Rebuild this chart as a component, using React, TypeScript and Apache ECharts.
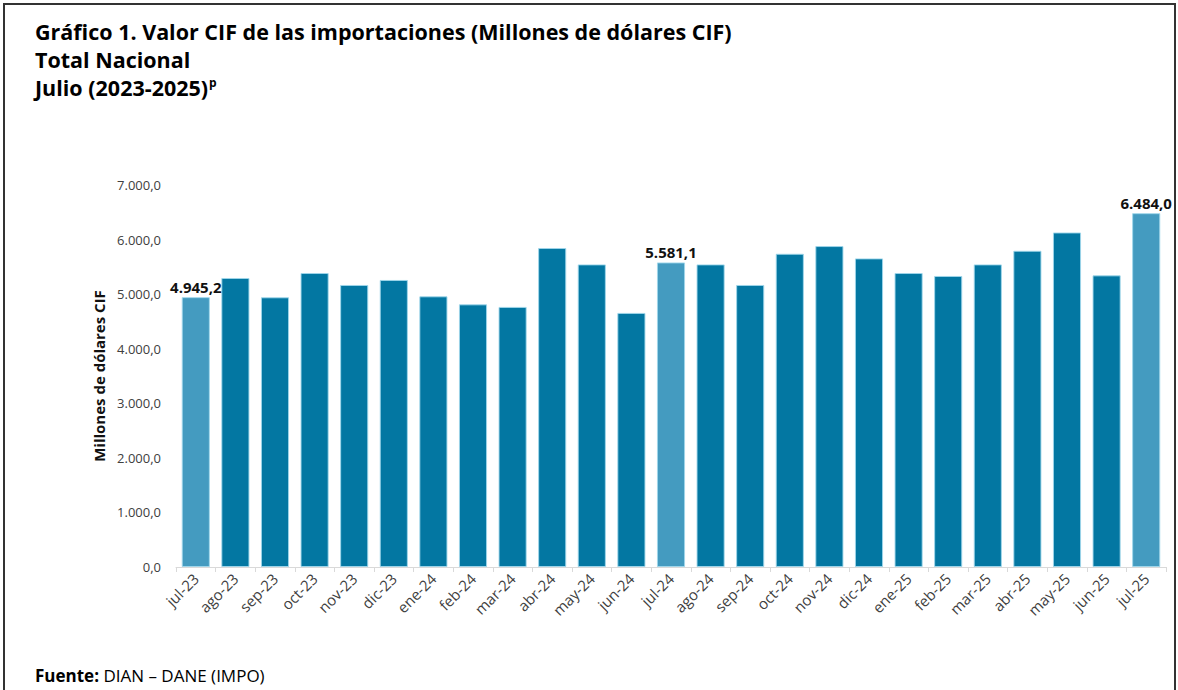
import React, { useEffect, useRef } from "react";
import * as echarts from "echarts";

const categories = [
  "jul-23", "ago-23", "sep-23", "oct-23", "nov-23", "dic-23", "ene-24", "feb-24", "mar-24",
  "abr-24", "may-24", "jun-24", "jul-24", "ago-24", "sep-24", "oct-24", "nov-24", "dic-24",
  "ene-25", "feb-25", "mar-25", "abr-25", "may-25", "jun-25", "jul-25",
];
const values = [
  4945.2, 5296, 4942, 5387, 5168, 5260, 4960, 4813, 4766, 5845, 5545, 4656, 5581.1,
  5545, 5168, 5740, 5881, 5655, 5387, 5333, 5545, 5795, 6130, 5344, 6484.0,
];
const yTicks = { min: 0, max: 7000, interval: 1000 };
const titleLines = [
  "Gráfico 1. Valor CIF de las importaciones (Millones de dólares CIF)",
  "Total Nacional",
  "Julio (2023-2025)",
];
const yAxisName = "Millones de dólares CIF";
const sourceLabel = "Fuente:";
const sourceText = " DIAN – DANE (IMPO)";

const DARK = "#0377a2";
const LIGHT = "#449bc0";
const FONT = "'Open Sans', 'Noto Sans', sans-serif";

function fmt(v: number): string {
  const [i, d] = v.toFixed(1).split(".");
  return i.replace(/\B(?=(\d{3})+(?!\d))/g, ".") + "," + d;
}

export default function App() {
  const ref = useRef<HTMLDivElement>(null);
  useEffect(() => {
    if (!ref.current) return;
    const chart = echarts.init(ref.current, undefined, { renderer: "svg" });
    const data = values.map((v, i) => {
      const isJul = categories[i].startsWith("jul");
      return {
        value: v,
        itemStyle: { color: isJul ? LIGHT : DARK },
        label: {
          show: isJul,
          position: "top",
          distance: 3,
          formatter: (p: any) => fmt(p.value),
          fontFamily: FONT,
          fontWeight: "bold",
          fontSize: 15,
          color: "#111",
        },
      };
    });
    chart.setOption({
      animation: false,
      backgroundColor: "#fff",
      grid: { left: 176, right: 12, top: 185, bottom: 123, containLabel: false },
      xAxis: {
        type: "category",
        data: categories,
        boundaryGap: true,
        axisLine: { show: true, lineStyle: { color: "#d9d9d9", width: 1 } },
        axisTick: { show: true, alignWithLabel: false, length: 5, lineStyle: { color: "#d9d9d9" } },
        axisLabel: {
          rotate: 45,
          interval: 0,
          margin: 9,
          fontFamily: FONT,
          fontSize: 15,
          color: "#404040",
        },
      },
      yAxis: {
        type: "value",
        min: yTicks.min,
        max: yTicks.max,
        interval: yTicks.interval,
        name: yAxisName,
        nameLocation: "middle",
        nameGap: 66,
        nameRotate: 90,
        nameTextStyle: { fontFamily: FONT, fontWeight: "bold", fontSize: 15, color: "#111" },
        axisLine: { show: false },
        axisTick: { show: false },
        splitLine: { show: false },
        axisLabel: {
          margin: 15,
          fontFamily: FONT,
          fontSize: 13,
          color: "#404040",
          formatter: (v: number) => fmt(v),
        },
      },
      series: [
        {
          type: "bar",
          data,
          barCategoryGap: "29%",
          itemStyle: { borderColor: "rgba(160,215,235,0.9)", borderWidth: 1 },
        },
      ],
      graphic: [
        {
          type: "polyline",
          shape: { points: [[4, 700], [4, 4], [1175, 4], [1175, 700]] },
          style: { stroke: "#333", lineWidth: 2, fill: "none" },
        },
        {
          type: "text",
          left: 35,
          top: 20,
          style: { text: titleLines[0], font: `bold 21.5px ${FONT}`, fill: "#000" },
        },
        {
          type: "text",
          left: 35,
          top: 48,
          style: { text: titleLines[1], font: `bold 21.5px ${FONT}`, fill: "#000" },
        },
        {
          type: "text",
          left: 35,
          top: 76,
          style: {
            text: `{a|${titleLines[2]}}{s|p}`,
            rich: {
              a: { font: `bold 21.5px ${FONT}`, fill: "#000", verticalAlign: "top" },
              s: { font: `bold 12px ${FONT}`, fill: "#000", verticalAlign: "top", padding: [0, 0, 10, 1] },
            },
          },
        },
        {
          type: "text",
          left: 35,
          top: 667,
          style: {
            text: `{b|${sourceLabel}}{r|${sourceText}}`,
            rich: {
              b: { font: `bold 17px ${FONT}`, fill: "#000" },
              r: { font: `17px ${FONT}`, fill: "#000" },
            },
          },
        },
      ],
    });
    return () => chart.dispose();
  }, []);
  return (
    <div
      ref={ref}
      style={{ position: "absolute", left: 0, top: 0, width: 1178, height: 690 }}
    />
  );
}
